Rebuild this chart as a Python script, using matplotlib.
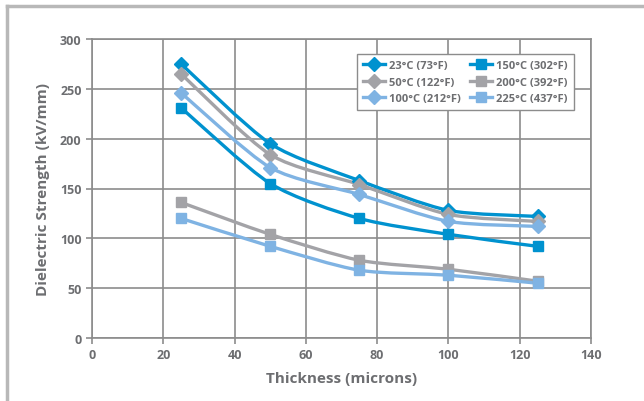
import numpy as np
import matplotlib
matplotlib.use("Agg")
import matplotlib.pyplot as plt
from matplotlib.path import Path
from matplotlib.patches import PathPatch
from matplotlib.lines import Line2D

thickness = [25, 50, 75, 100, 125]
t23 = [275, 195, 158, 128, 122]
t50 = [265, 184, 154, 124, 117]
t100 = [246, 171, 144, 117, 112]
t150 = [231, 155, 120, 104, 92]
t200 = [136, 104, 78, 69, 57]
t225 = [120, 92, 68, 63, 55]
labels = ["23°C (73°F)", "50°C (122°F)", "100°C (212°F)",
          "150°C (302°F)", "200°C (392°F)", "225°C (437°F)"]

BLUE = "#0092cf"
GRAY = "#a3a3a7"
LBLUE = "#7fb3e3"
TXT = "#6d6e71"

plt.rcParams['font.family'] = ['Open Sans', 'DejaVu Sans']


def smooth_path(x, y, k=8.0):
    # catmull-rom -> bezier segments, like excel's smoothed lines
    x = np.asarray(x, float)
    y = np.asarray(y, float)
    verts = [(x[0], y[0])]
    codes = [Path.MOVETO]
    n = len(x)
    for i in range(n - 1):
        x0, y0 = (x[i - 1], y[i - 1]) if i > 0 else (x[i], y[i])
        x3, y3 = (x[i + 2], y[i + 2]) if i + 2 < n else (x[i + 1], y[i + 1])
        c1 = (x[i] + (x[i + 1] - x0) / k, y[i] + (y[i + 1] - y0) / k)
        c2 = (x[i + 1] - (x3 - x[i]) / k, y[i + 1] - (y3 - y[i]) / k)
        verts += [c1, c2, (x[i + 1], y[i + 1])]
        codes += [Path.CURVE4] * 3
    return Path(verts, codes)


fig = plt.figure(figsize=(6.44, 4.02), dpi=100)
ax = fig.add_axes([92 / 644, 1 - 339 / 402, 499 / 644, 299 / 402])

series = [(t23, BLUE, "D"), (t50, GRAY, "D"), (t100, LBLUE, "D"),
          (t150, BLUE, "s"), (t200, GRAY, "s"), (t225, LBLUE, "s")]

handles = []
for (vals, col, mk), lab in zip(series, labels):
    ax.add_patch(PathPatch(smooth_path(thickness, vals), fill=False,
                           edgecolor=col, lw=2.4, zorder=3))
    ms = 7 if mk == "D" else 6.5
    ax.plot(thickness, vals, ls="none", marker=mk, color=col, ms=ms,
            mec=col, zorder=4)
    handles.append(Line2D([], [], color=col, lw=2.4, marker=mk, ms=ms))

ax.set_xlim(0, 140)
ax.set_ylim(0, 300)
ax.set_xticks(np.arange(0, 141, 20))
ax.set_yticks(np.arange(0, 301, 50))
ax.grid(True, color="#8c8c8c", lw=1.2)
ax.set_axisbelow(True)
for s in ax.spines.values():
    s.set_color("#8c8c8c")
    s.set_linewidth(1.2)
ax.tick_params(colors="#8c8c8c", labelcolor=TXT, labelsize=9, length=4,
               width=1.2, direction="out")
for lbl in ax.get_xticklabels() + ax.get_yticklabels():
    lbl.set_fontweight("bold")

ax.set_xlabel("Thickness (microns)", fontsize=11, fontweight="bold",
              color=TXT, labelpad=7)
ax.set_ylabel("Dielectric Strength (kV/mm)", fontsize=11, fontweight="bold",
              color=TXT, labelpad=7)

leg = ax.legend(handles, labels, ncol=2, loc="upper right",
                bbox_to_anchor=(0.977, 0.968), fontsize=8, frameon=True,
                fancybox=False, edgecolor="#8c8c8c", framealpha=1,
                handlelength=2.0, columnspacing=0.8, handletextpad=0.35,
                labelspacing=0.5, borderpad=0.55)
leg.get_frame().set_linewidth(1.0)
for t in leg.get_texts():
    t.set_color(TXT)
    t.set_fontweight("bold")

# outer frame (top and left only visible)
fig.add_artist(Line2D([7 / 644, 1], [1 - 7 / 402, 1 - 7 / 402],
                      transform=fig.transFigure, color="#b8b8b8", lw=2.5))
fig.add_artist(Line2D([7 / 644, 7 / 644], [0, 1 - 7 / 402],
                      transform=fig.transFigure, color="#b8b8b8", lw=2.5))

fig.savefig("out.png", dpi=100)
